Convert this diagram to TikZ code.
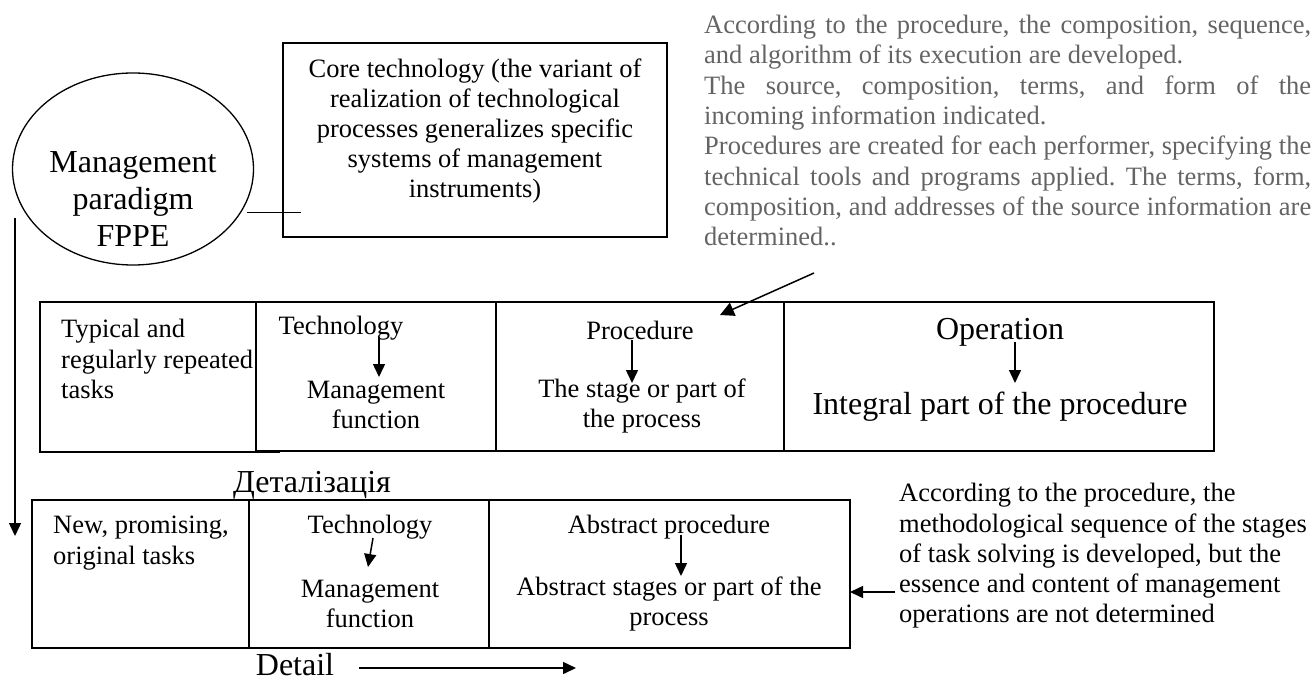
\documentclass[tikz,border=0pt]{standalone}
\usepackage{fontspec}
\setmainfont{Liberation Serif}
\usetikzlibrary{arrows.meta,shapes.geometric,calc}
\definecolor{notegray}{RGB}{100,100,100}
\setlength{\parindent}{0pt}
\hyphenpenalty=10000
\exhyphenpenalty=10000
\frenchspacing
\begin{document}
\begin{tikzpicture}[x=1pt,y=-1pt,
  cell/.style={draw, line width=1.5pt, inner sep=0pt, outer sep=0pt},
  txt/.style={font=\fontsize{26.5}{30.3}\selectfont, inner sep=0pt, align=center},
  ltxt/.style={font=\fontsize{26.5}{30.3}\selectfont, inner sep=0pt, align=left},
  bigtxt/.style={font=\fontsize{32}{37}\selectfont, inner sep=0pt, align=center},
  arr/.style={line width=1.5pt, -{Triangle[length=13pt,width=12pt]}},
  conn/.style={line width=1.5pt}]
\useasboundingbox (0,0) rectangle (1313,684);

% paradigm and core technology
\node[draw, ellipse, line width=1.3pt, minimum width=241pt, minimum height=192pt, inner sep=0pt] (para) at (133,169) {};
\node[bigtxt] (paratxt) at (133,199) {Management\\paradigm\\FPPE};
\node[cell, minimum width=384pt, minimum height=194pt] (core) at (475,140) {};
\node[txt, font=\fontsize{26.5}{30}\selectfont] (coretxt) at (475,131) {Core technology (the variant of\\realization of technological\\processes generalizes specific\\systems of management\\instruments)};
\draw[conn] ($(para.-22)+(6,0)$) -- ($(core.west |- para.-22)+(18,0)$);

% explanatory note on procedures
\node[anchor=north west, inner sep=0pt, text width=607pt, align=justify, text=notegray,
      font=\fontsize{26.5}{30.3}\selectfont] (note) at (704,15)
 {According to the procedure, the composition, sequence,\linebreak and algorithm of its execution are developed.\par
  The source, composition, terms, and form of the\linebreak incoming information indicated.\par
  Procedures are created for each performer, specifying the\linebreak technical tools and programs applied. The terms, form,\linebreak composition, and addresses of the source information are\linebreak determined..};

% typical tasks row
\node[cell, minimum width=216pt, minimum height=150pt] (typ) at (148,377) {};
\node[cell, minimum width=240pt, minimum height=149pt] (tech1) at (376,376.5) {};
\node[cell, minimum width=288pt, minimum height=149pt] (proc) at (640,376.5) {};
\node[cell, minimum width=430pt, minimum height=149pt] (oper) at (999,376.5) {};
\draw[conn] (typ.south east) -- ++(24,0);

\node[ltxt, anchor=west] (typtxt) at (61,359) {Typical and\\regularly repeated\\tasks};
\node[txt] (tech1a) at (341,328) {Technology};
\node[txt] (tech1b) at (376,405) {Management\\function};
\node[txt] (proca) at (640,330) {Procedure};
\node[txt] (procb) at (642,406) {The stage or part of\\the process};
\node[bigtxt] (opera) at (1000,332) {Operation};
\node[bigtxt] (operb) at (1000,407) {Integral part of the procedure};

\coordinate (t1s) at (379,337);  \coordinate (t1e) at (379,377);
\coordinate (p1s) at (632,340);  \coordinate (p1e) at (632,383);
\coordinate (o1s) at (1015,342); \coordinate (o1e) at (1015,383);
\draw[arr] (t1s) -- (t1e);
\draw[arr] (p1s) -- (p1e);
\draw[arr] (o1s) -- (o1e);
\coordinate (notept) at (814,273);
\coordinate (notetip) at (720,315);
\draw[arr, -{Triangle[length=14pt,width=14pt]}] (notept) -- (notetip);

% new tasks row
\node[bigtxt] (detua) at (312,485) {Деталізація};
\node[cell, minimum width=217pt, minimum height=148pt] (newt) at (140.5,574) {};
\node[cell, minimum width=240pt, minimum height=148pt] (tech2) at (369,574) {};
\node[cell, minimum width=361pt, minimum height=148pt] (absp) at (669.5,574) {};

\node[ltxt, anchor=west] (newtxt) at (53,543) {New, promising,\\original tasks};
\node[txt] (tech2a) at (370,527) {Technology};
\node[txt] (tech2b) at (370,604) {Management\\function};
\node[txt] (abspa) at (669,527) {Abstract procedure};
\node[txt] (abspb) at (669,604) {Abstract stages or part of the\\process};

\coordinate (t2s) at (373,538); \coordinate (t2e) at (368,567);
\coordinate (a2s) at (681,535); \coordinate (a2e) at (681,576);
\draw[arr] (t2s) -- (t2e);
\draw[arr] (a2s) -- (a2e);

\node[ltxt, anchor=west] (abnote) at (899,556) {According to the procedure, the\\methodological sequence of the stages\\of task solving is developed, but the\\essence and content of management\\operations are not determined};
\draw[arr] ($(absp.east |- 0,592)+(45,0)$) -- (absp.east |- 0,592);

% detail direction and paradigm flow
\node[bigtxt] (detail) at (295,665) {Detail};
\coordinate (dete) at (576,668);
\draw[arr] ($(detail.east |- 0,668)+(25,0)$) -- (dete);
\coordinate (flows) at (15,218);
\coordinate (flowe) at (15,536);
\draw[arr] (flows) -- (flowe);
\end{tikzpicture}
\end{document}
